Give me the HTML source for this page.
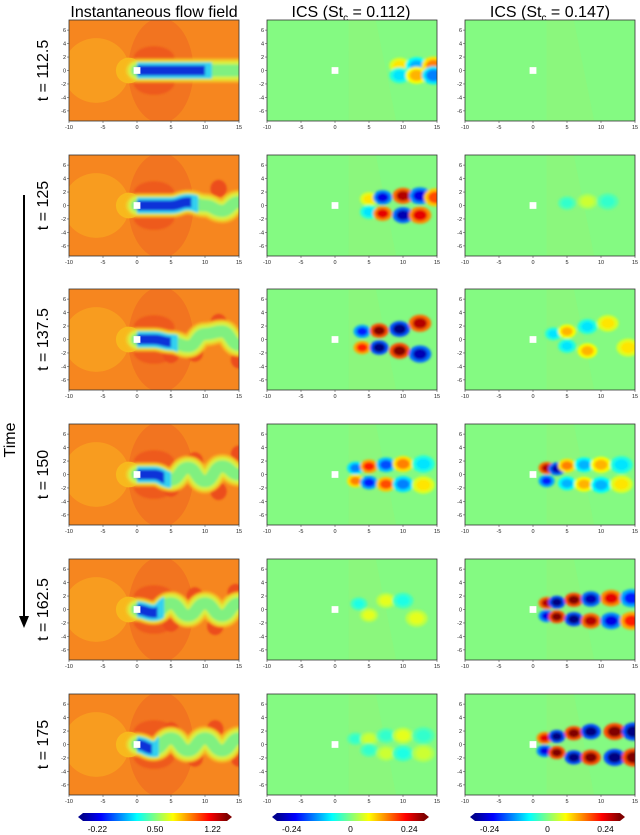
<!DOCTYPE html>
<html><head><meta charset="utf-8"><style>
body{margin:0;background:#fff;}
svg{display:block;font-family:"Liberation Sans",sans-serif;}
</style></head><body>
<svg id="fig" width="640" height="835" viewBox="0 0 640 835">
<defs>
<filter id="blur" filterUnits="userSpaceOnUse" x="0" y="0" width="640" height="835"><feGaussianBlur stdDeviation="1.4"/></filter>
<filter id="blur1" filterUnits="userSpaceOnUse" x="0" y="0" width="640" height="835"><feGaussianBlur stdDeviation="1"/></filter>
<linearGradient id="jetg" x1="0" x2="1" y1="0" y2="0">
<stop offset="0" stop-color="#00008f"/><stop offset="0.125" stop-color="#0000ff"/><stop offset="0.375" stop-color="#00ffff"/><stop offset="0.5" stop-color="#80ff80"/><stop offset="0.625" stop-color="#ffff00"/><stop offset="0.875" stop-color="#ff0000"/><stop offset="1" stop-color="#800000"/>
</linearGradient>
</defs>
<text x="154" y="17" font-size="16" text-anchor="middle">Instantaneous flow field</text>
<text x="351" y="17" font-size="16" text-anchor="middle">ICS (St<tspan font-size="10" dy="4">c</tspan><tspan dy="-4"> = 0.112)</tspan></text>
<text x="550" y="17" font-size="16" text-anchor="middle">ICS (St<tspan font-size="10" dy="4">c</tspan><tspan dy="-4"> = 0.147)</tspan></text>
<line x1="24" y1="195" x2="24" y2="618" stroke="#000" stroke-width="2"/>
<polygon points="19,616 29,616 24,628" fill="#000"/>
<text x="0" y="0" font-size="16" text-anchor="middle" transform="translate(15,440) rotate(-90)">Time</text>
<g id="panels"></g>
</svg>
<script>
const times=["112.5","125","137.5","150","162.5","175"];
const wakeX=[0,2.5,5,7.5,10,12.5,15];
const wakeY=[[0,0,0,0,0,0,0],[0,0,0,0.5,0,-0.8,0.5],[0,0,-0.4,-1,0.8,1.2,-0.8],[0,0,-0.8,1,-1,1.2,0],[0,-0.5,0.9,-0.9,0.9,-0.9,0.9],[0,-0.7,0.9,-0.9,0.9,-0.9,0.9]];
const blueEnd=[10,8,5,4,3,2.2];
const flowRed=[[],[[12,2.5]],[[5,-2.2],[8.5,-2],[12,2.5],[15,-3]],[[5,-2],[8.5,2],[12,-2.5],[15,3]],[[5,-2],[8.5,2],[11.5,-2.5],[14.5,2.5]],[[5,2],[8.5,-2],[11.5,2.3],[15,-2]]];
const ics1=[
[[9.5,0.6,0.3],[9.5,-0.6,-0.3],[12,0.6,-0.4],[12,-0.6,0.4],[14.5,0.6,0.5],[14.5,-0.6,-0.5]],
[[5,0.8,0.3],[5,-0.8,-0.3],[7,1,-0.8],[7,-1,0.8],[10,1.2,0.9],[10,-1.2,-0.9],[12.5,1.2,-0.8],[12.5,-1.2,0.8],[14.8,1,0.6]],
[[4,1,-0.7],[4,-1,0.7],[6.5,1.1,1],[6.5,-1,-1],[9.5,1.3,-1],[9.5,-1.4,1],[12.5,2,0.9],[12.5,-1.8,-0.9]],
[[3,0.8,-0.5],[3,-0.8,0.5],[5,1,0.7],[5,-1,-0.7],[7.5,1.2,-0.6],[7.5,-1.2,0.6],[10,1.3,0.5],[10,-1.2,-0.5],[13,1.3,-0.3],[13,-1.3,0.3]],
[[3.5,0.7,-0.2],[5,-0.7,0.2],[7.5,1.1,0.2],[10,1.1,-0.2],[12,-1.1,0.2]],
[[3,0.7,-0.15],[5,0.7,0.15],[5,-0.7,-0.15],[7.5,1.1,-0.15],[7.5,-1.1,0.15],[10,1.1,0.2],[10,-1.1,-0.2],[13,1.1,-0.15],[13,-1.1,0.15]]];
const ics2=[
[],
[[5,0.3,-0.15],[8,0.5,0.15],[11,0.5,-0.15]],
[[3,0.7,-0.3],[5,1,0.4],[5,-0.8,-0.3],[8,-1.4,0.4],[8,1.6,-0.3],[11,2,0.3],[14,-1,0.3]],
[[2,0.8,0.9],[2,-0.8,-0.7],[3.5,0.7,-0.9],[5,1.1,0.5],[5,-1.1,-0.4],[7.5,1.2,-0.4],[7.5,-1.2,0.4],[10,1.2,0.4],[10,-1.3,-0.4],[13,1.2,-0.3],[13,-1.2,0.3]],
[[2,0.8,0.9],[2,-0.8,-0.8],[3.5,0.9,-1],[3.5,-0.9,1],[6,1.2,1],[6,-1.2,-1],[8.5,1.3,-0.9],[8.5,-1.4,0.9],[11.5,1.4,0.8],[11.5,-1.4,-0.8],[14.5,1.4,-0.7],[14.5,-1.4,0.7]],
[[1.7,0.8,0.8],[1.7,-0.8,-0.8],[3.5,1,-1],[3.5,-1,1],[6,1.4,1],[6,-1.6,-1],[8.5,1.6,-1],[8.5,-1.6,1],[12,1.6,1],[12,-1.6,-1],[14.8,1.6,-1],[14.8,-1.6,1]]];
const xTicks=[-10,-5,0,5,10,15];
const yTicks=[-6,-4,-2,0,2,4,6];
const cbTicks=[["-0.22","0.50","1.22"],["-0.24","0","0.24"],["-0.24","0","0.24"]];

const NS="http://www.w3.org/2000/svg";
const root=document.getElementById('panels');
const colX=[69,267,465], W=170, H=101;
const rowY=[20,155,289,424,559,694];
function mk(tag,attrs,parent){const e=document.createElementNS(NS,tag);for(const k in attrs)e.setAttribute(k,attrs[k]);(parent||root).appendChild(e);return e;}
function jet(v){v=Math.max(0,Math.min(1,v));const r=Math.min(4*v-1.5,-4*v+4.5),g=Math.min(4*v-0.5,-4*v+3.5),b=Math.min(4*v+0.5,-4*v+2.5);const c=x=>Math.round(255*Math.max(0,Math.min(1,x)));return `rgb(${c(r)},${c(g)},${c(b)})`;}
let gid=0;
function panel(c,r){
  const x0=colX[c],y0=rowY[r];
  const sx=v=>x0+(v+10)/25*W, sy=v=>y0+H/2-v/15*H, kx=W/25, ky=H/15;
  const g=mk('g',{});
  
  
  const cid='clip'+(gid++);
  const cp=mk('clipPath',{id:cid},g);mk('rect',{x:x0,y:y0,width:W,height:H},cp);
  const inner=mk('g',{'clip-path':`url(#${cid})`},g);
  if(c===0){
    mk('rect',{x:x0,y:y0,width:W,height:H,fill:'#f6861f'},inner);
    mk('ellipse',{cx:sx(3.5),cy:sy(0),rx:4.8*kx,ry:7.8*ky,fill:'#f27420'},inner);
    mk('ellipse',{cx:sx(-6),cy:sy(0),rx:4.9*kx,ry:4.8*ky,fill:'#f89c1f'},inner);
    const lg=mk('g',{filter:'url(#blur1)'},inner);
    mk('ellipse',{cx:sx(2.5),cy:sy(1.8),rx:3*kx,ry:1.8*ky,fill:'#ee5a1d'},lg);
    mk('ellipse',{cx:sx(2.5),cy:sy(-1.8),rx:3*kx,ry:1.8*ky,fill:'#ee5a1d'},lg);
    flowRed[r].forEach(p=>{const e=mk('ellipse',{cx:sx(p[0]),cy:sy(p[1]),rx:1.2*kx,ry:1.3*ky,fill:'#ec4e1c'},lg);});
    mk('circle',{cx:sx(-1.2),cy:sy(0),r:1.9*kx,fill:'#f8b81d'},inner);
    mk('circle',{cx:sx(-0.7),cy:sy(0),r:1*kx,fill:'#ecd92c'},inner);
    const pts=wakeX.map((x,i)=>[sx(x),sy(wakeY[r][i])]);
    let d='M'+pts[0][0]+','+pts[0][1];
    for(let i=1;i<pts.length;i++){const p=pts[i-1],q=pts[i],mx=(p[0]+q[0])/2;d+=` C${mx},${p[1]} ${mx},${q[1]} ${q[0]},${q[1]}`;}
    const full=d+` L${x0+W+10},${pts[6][1]}`;
    const wg=mk('g',{filter:'url(#blur)'},inner);
    mk('path',{d:full,fill:'none',stroke:'#f4c020','stroke-width':3.6*ky,'stroke-linecap':'round'},wg);
    mk('path',{d:full,fill:'none',stroke:'#d8f040','stroke-width':2.8*ky,'stroke-linecap':'round'},wg);
    mk('path',{d:full,fill:'none',stroke:'#80f080','stroke-width':1.8*ky,'stroke-linecap':'round'},wg);
    const bcid='bclip'+(gid++);
    const bcp=mk('clipPath',{id:bcid},g);mk('rect',{x:x0,y:y0,width:sx(blueEnd[r]+1)-x0,height:H},bcp);
    const bg=mk('g',{'clip-path':`url(#${bcid})`},wg);
    const bcid2='bclip'+(gid++);
    const bcp2=mk('clipPath',{id:bcid2},g);mk('rect',{x:x0,y:y0,width:sx(blueEnd[r])-x0,height:H},bcp2);
    mk('path',{d,fill:'none',stroke:'#30d0f0','stroke-width':2.4*ky},bg);
    mk('path',{d,fill:'none',stroke:'#1030d8','stroke-width':1.5*ky,'clip-path':`url(#${bcid2})`},bg);
  } else {
    mk('rect',{x:x0,y:y0,width:W,height:H,fill:'#84fa82'},inner);
    mk('path',{d:`M${sx(2)},${y0} L${sx(6)},${y0} L${sx(9)},${y0+H} L${sx(2)},${y0+H} Z`,fill:'#90f57a',opacity:0.6},inner);
    const bl=mk('g',{filter:'url(#blur)'},inner);
    const data=c===1?ics1[r]:ics2[r];
    data.forEach(b=>{
      const s=1+b[0]/25;
      const e1=mk('ellipse',{cx:sx(b[0]),cy:sy(b[1]*1.2),rx:1.1*s*kx,ry:0.85*s*ky,fill:jet(0.5+0.3*b[2])},bl);
      
      mk('ellipse',{cx:sx(b[0]),cy:sy(b[1]*1.2),rx:0.7*s*kx,ry:0.55*s*ky,fill:jet(0.5+0.5*b[2])},bl);
    });
  }
  mk('rect',{x:sx(-0.5),y:sy(0.5),width:kx,height:ky,fill:'#fff'},g);
  mk('rect',{x:x0,y:y0,width:W,height:H,fill:'none',stroke:'#333','stroke-width':0.8},g);
  const ax=mk('g',{'font-size':5.5,fill:'#222'},g);
  
  xTicks.forEach(t=>{mk('line',{x1:sx(t),x2:sx(t),y1:y0+H,y2:y0+H+2,stroke:'#333','stroke-width':0.5},ax);const tx=mk('text',{x:sx(t),y:y0+H+8,'text-anchor':'middle'},ax);tx.textContent=t;});
  yTicks.forEach(t=>{mk('line',{x1:x0-2,x2:x0,y1:sy(t),y2:sy(t),stroke:'#333','stroke-width':0.5},ax);const tx=mk('text',{x:x0-3,y:sy(t)+2,'text-anchor':'end'},ax);tx.textContent=t;});
}
for(let r=0;r<6;r++){
  for(let c=0;c<3;c++)panel(c,r);
  const cy=rowY[r]+H/2;
  const lab=mk('text',{x:0,y:0,'font-size':16,'text-anchor':'middle',transform:`translate(48,${cy}) rotate(-90)`});
  
  
  lab.textContent='t = '+times[r];
}
const cbX=[[78,232],[272,429],[470,625]];
cbX.forEach((p,i)=>{
  const g=mk('g',{});
  
  
  const y=813,h=8;
  mk('polygon',{points:`${p[0]},${y+h/2} ${p[0]+5},${y} ${p[0]+5},${y+h}`,fill:'#00008f'},g);
  mk('polygon',{points:`${p[1]},${y+h/2} ${p[1]-5},${y} ${p[1]-5},${y+h}`,fill:'#800000'},g);
  mk('rect',{x:p[0]+5,y,width:p[1]-p[0]-10,height:h,fill:'url(#jetg)'},g);
  const w=p[1]-p[0]-10;
  [0.1,0.5,0.9].forEach((f,j)=>{const t=mk('text',{x:p[0]+5+w*f,y:832,'font-size':8.5,'text-anchor':'middle'},g);t.textContent=cbTicks[i][j];});
});
</script>
</body></html>
